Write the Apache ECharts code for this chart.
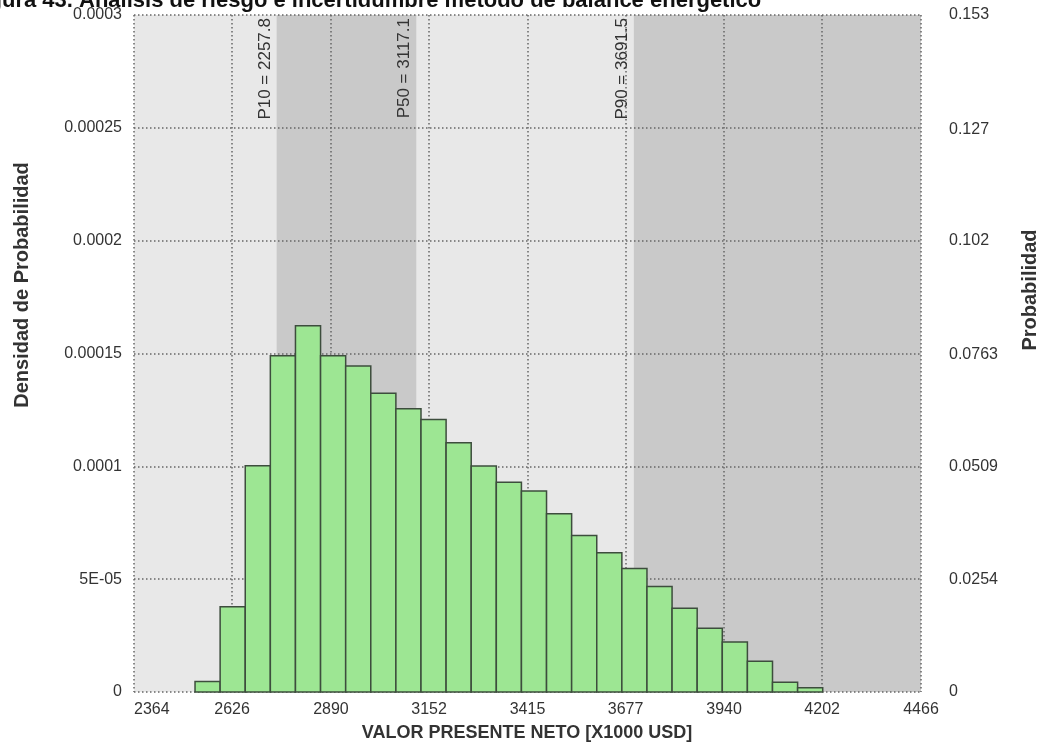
<!DOCTYPE html>
<html>
<head>
<meta charset="utf-8">
<script src="https://cdn.jsdelivr.net/npm/echarts@6/dist/echarts.min.js"></script>
<style>html,body{margin:0;padding:0;background:#fff}#c{width:1049px;height:746px}</style>
</head>
<body>
<div id="c"></div>
<script>
// ---- data ----
const chartTitle = "Figura 43. Análisis de riesgo e incertidumbre método de balance energético";
const xTitle = "VALOR PRESENTE NETO [X1000 USD]";
const yLeftTitle = "Densidad de Probabilidad";
const yRightTitle = "Probabilidad";
const xTicks = [2364, 2626, 2890, 3152, 3415, 3677, 3940, 4202, 4466];
const densTicks = [0, 0.00005, 0.0001, 0.00015, 0.0002, 0.00025, 0.0003];
const densTickLabels = ["0", "5E-05", "0.0001", "0.00015", "0.0002", "0.00025", "0.0003"];
const probTicks = [0, 0.0254, 0.0509, 0.0763, 0.102, 0.127, 0.153];
const binStart = 2527;
const binWidth = 67.06;
const densities = [
  4.6e-6, 3.78e-5, 1.003e-4, 1.490e-4, 1.623e-4, 1.490e-4, 1.445e-4, 1.324e-4,
  1.255e-4, 1.208e-4, 1.105e-4, 1.001e-4, 9.29e-5, 8.91e-5, 7.90e-5, 6.94e-5,
  6.17e-5, 5.47e-5, 4.67e-5, 3.71e-5, 2.82e-5, 2.22e-5, 1.36e-5, 4.3e-6, 1.9e-6
];
const pctLabels = ["P10 = 2257.8", "P50 = 3117.1", "P90 = 3691.5"];
const pctPositions = [2745, 3118, 3699];
// shaded bands: [from, to]
const bands = [[pctPositions[0], pctPositions[1]], [pctPositions[2], 4466]];

const FONT = "'Liberation Sans', Arial, sans-serif";
const gridLine = { show: true, lineStyle: { color: '#666666', width: 1.5, type: [1.5, 2.5] } };

const binData = densities.map((d, i) => [binStart + i * binWidth, binStart + (i + 1) * binWidth, d]);

const chart = echarts.init(document.getElementById('c'), null, { renderer: 'canvas' });
chart.setOption({
  animation: false,
  backgroundColor: '#ffffff',
  grid: { left: 134, right: 128, top: 15, bottom: 54, show: true, backgroundColor: '#e8e8e8', borderWidth: 0 },
  xAxis: {
    type: 'value', min: xTicks[0], max: xTicks[xTicks.length - 1], z: 2,
    axisLine: { show: false }, axisTick: { show: false, customValues: xTicks },
    axisLabel: { customValues: xTicks, color: '#333', fontFamily: FONT, fontSize: 16, margin: 10,
      alignMinLabel: 'left', formatter: v => String(v) },
    splitLine: gridLine
  },
  yAxis: [
    {
      type: 'value', min: 0, max: densTicks[densTicks.length - 1], interval: densTicks[1], z: 2,
      axisLine: { show: false }, axisTick: { show: false },
      axisLabel: { color: '#333', fontFamily: FONT, fontSize: 16, margin: 12,
        formatter: (v) => { const i = Math.round(v / densTicks[1]); return densTickLabels[i]; } },
      splitLine: gridLine
    },
    {
      type: 'value', min: 0, max: probTicks[probTicks.length - 1], position: 'right', z: 2,
      axisLine: { show: false }, axisTick: { show: false, customValues: probTicks },
      axisLabel: { customValues: probTicks, color: '#333', fontFamily: FONT, fontSize: 16, margin: 28, formatter: v => String(v) },
      splitLine: { show: false }
    }
  ],
  series: [
    {
      type: 'line', data: [], z: 1,
      markArea: {
        silent: true,
        itemStyle: { color: '#c9c9c9' },
        data: bands.map(b => [{ xAxis: b[0] }, { xAxis: b[1] }])
      },
      markLine: {
        silent: true, symbol: 'none',
        lineStyle: { color: 'rgba(0,0,0,0)', width: 0 },
        label: {
          show: true, position: 'insideEndTop', distance: 3, color: '#333', fontFamily: FONT, fontSize: 17,
          formatter: p => pctLabels[p.dataIndex]
        },
        data: pctPositions.map(v => ({ xAxis: v }))
      }
    },
    {
      type: 'custom', z: 3,
      data: binData,
      encode: { x: [0, 1], y: 2 },
      renderItem: (params, api) => {
        const p0 = api.coord([api.value(0), 0]);
        const p1 = api.coord([api.value(1), api.value(2)]);
        return {
          type: 'rect',
          shape: { x: p0[0], y: p1[1], width: p1[0] - p0[0], height: p0[1] - p1[1] },
          style: { fill: '#9de693', stroke: '#3d4d3d', lineWidth: 1.5 }
        };
      }
    }
  ],
  graphic: [
    { type: 'text', left: -31, top: -10, style: { text: chartTitle, font: "bold 22px " + FONT, fill: '#111' } },
    { type: 'text', x: 22, y: 285, rotation: Math.PI / 2,
      style: { text: yLeftTitle, font: "bold 20px " + FONT, fill: '#333', align: 'center', verticalAlign: 'middle' } },
    { type: 'text', x: 1030, y: 290, rotation: Math.PI / 2,
      style: { text: yRightTitle, font: "bold 20px " + FONT, fill: '#333', align: 'center', verticalAlign: 'middle' } },
    { type: 'text', x: 527, y: 733,
      style: { text: xTitle, font: "bold 18px " + FONT, fill: '#333', align: 'center', verticalAlign: 'middle' } }
  ]
});
</script>
</body>
</html>
